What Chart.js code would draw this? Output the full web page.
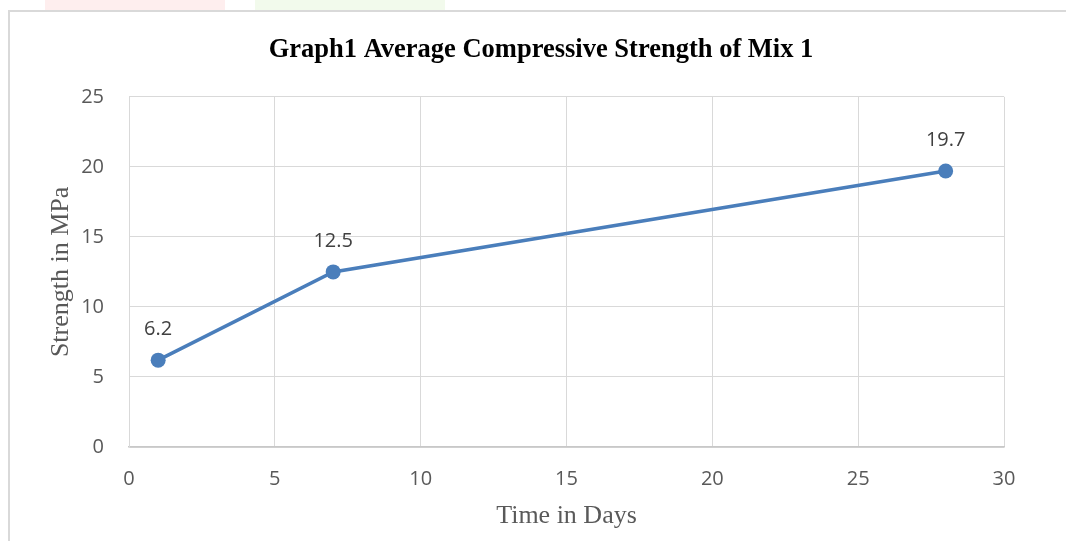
<!DOCTYPE html>
<html>
<head>
<meta charset="utf-8">
<script src="https://cdn.jsdelivr.net/npm/chart.js@4/dist/chart.umd.min.js"></script>
<style>
  html, body { margin: 0; padding: 0; background: #fff; }
  #wrap { position: relative; width: 1066px; height: 541px; overflow: hidden; }
  #frame { position: absolute; left: 8px; top: 10px; width: 1070px; height: 540px;
           border-left: 2px solid #d9d9d9; border-top: 2px solid #d9d9d9; }
  .wm { position: absolute; top: 0; height: 10px; }
  #chart { position: absolute; left: 0; top: 0; }
</style>
</head>
<body>
<div id="wrap">
  <div class="wm" style="left:45px;width:180px;background:#feeeee;"></div>
  <div class="wm" style="left:255px;width:190px;background:#f2faec;"></div>
  <div id="frame"></div>
  <canvas id="chart" width="1066" height="541"></canvas>
</div>
<script>
// data
const days = [1, 7, 28];
const strength = [6.2, 12.5, 19.7];
const xTicks = [0, 5, 10, 15, 20, 25, 30];
const yTicks = [0, 5, 10, 15, 20, 25];

const chartTitle = 'Graph1 Average Compressive Strength of Mix 1';
const xTitle = 'Time in Days';
const yTitle = 'Strength in MPa';

const lineColor = '#4a7ebb';
const gridColor = '#d9d9d9';
const tickColor = '#595959';

// draws the value above each point, like Excel data labels
const pointLabels = {
  id: 'pointLabels',
  afterDatasetsDraw(chart) {
    const ctx = chart.ctx;
    const meta = chart.getDatasetMeta(0);
    ctx.save();
    ctx.font = '20px "Open Sans"';
    ctx.fillStyle = '#404040';
    ctx.textAlign = 'center';
    ctx.textBaseline = 'middle';
    meta.data.forEach((pt, i) => {
      ctx.fillText(String(strength[i]), pt.x, pt.y - 31);
    });
    ctx.restore();
  }
};

new Chart(document.getElementById('chart'), {
  type: 'line',
  data: {
    datasets: [{
      data: days.map((d, i) => ({ x: d, y: strength[i] })),
      borderColor: lineColor,
      backgroundColor: lineColor,
      borderWidth: 3.5,
      pointRadius: 7.5,
      pointBorderWidth: 0,
      pointBackgroundColor: lineColor,
      tension: 0
    }]
  },
  options: {
    responsive: false,
    animation: false,
    layout: { padding: { left: 16, right: 0, top: 0, bottom: 0 } },
    plugins: {
      legend: { display: false },
      tooltip: { enabled: false },
      title: {
        display: true,
        text: chartTitle,
        color: '#000',
        font: { family: '"Liberation Serif", "Times New Roman", serif', size: 26.5, weight: 'bold', lineHeight: 1.2 },
        padding: { top: 34, bottom: 31 }
      }
    },
    scales: {
      x: {
        type: 'linear',
        min: 0,
        max: 30,
        afterBuildTicks(scale) { scale.ticks = xTicks.map(v => ({ value: v })); },
        afterFit(scale) { scale.height = 94; },
        grid: { color: gridColor, drawTicks: false },
        border: { color: '#c8c8c8', width: 1.5 },
        ticks: { color: tickColor, padding: 20, font: { family: '"Open Sans"', size: 20 } },
        title: {
          display: true,
          text: xTitle,
          color: tickColor,
          font: { family: '"Liberation Serif", "Times New Roman", serif', size: 26 },
          padding: { top: 0, bottom: 9 }
        }
      },
      y: {
        min: 0,
        max: 25,
        afterBuildTicks(scale) { scale.ticks = yTicks.map(v => ({ value: v })); },
        afterFit(scale) { scale.width = 113; },
        grid: { color: gridColor, drawTicks: false },
        border: { color: gridColor },
        ticks: { color: tickColor, padding: 25, font: { family: '"Open Sans"', size: 20 } },
        title: {
          display: true,
          text: yTitle,
          color: tickColor,
          font: { family: '"Liberation Serif", "Times New Roman", serif', size: 26 },
          padding: { top: 30, bottom: 0 }
        }
      },
      // empty right axis, only keeps the right margin so the title stays centred
      yRight: {
        position: 'right',
        min: 0,
        max: 25,
        afterFit(scale) { scale.width = 62; },
        grid: { display: false, drawTicks: false },
        border: { display: false },
        ticks: { display: false }
      }
    }
  },
  plugins: [pointLabels]
});
</script>
</body>
</html>
